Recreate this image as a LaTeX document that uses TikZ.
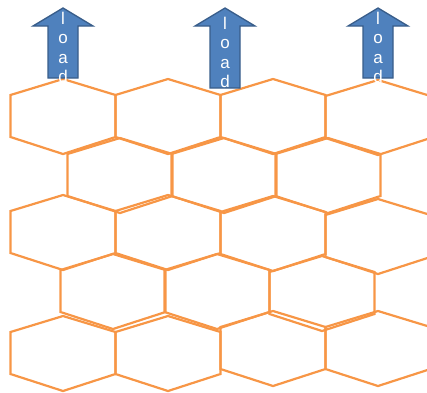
\documentclass[tikz,border=0pt]{standalone}
\usepackage{fontspec}
\setmainfont{Liberation Sans}
\definecolor{hexorange}{HTML}{F79646}
\definecolor{loadblue}{HTML}{4F81BD}
\definecolor{loadedge}{HTML}{385D8A}
\tikzset{
  hexcell/.pic={\draw[hexline] (0,0) -- (52.5,16) -- (52.5,58) -- (0,75) -- (-52.5,58) -- (-52.5,16) -- cycle;},
  loadarrow/.pic={\draw[arrowbody] (0,0) -- (30,18) -- (15,18) -- (15,#1) -- (-15,#1) -- (-15,18) -- (-30,18) -- cycle;}
}
\begin{document}
\begin{tikzpicture}[x=1pt, y=-1pt,
  hexline/.style={draw=hexorange, line width=2.2pt, line join=miter},
  arrowbody/.style={draw=loadedge, fill=loadblue, line width=1.3pt},
  loadtext/.style={text=white, inner sep=0pt, align=center, font=\fontsize{17}{19.5}\selectfont}
]
\useasboundingbox (0,0) rectangle (427,392);
\clip (0,0) rectangle (427,392);

% cells, row by row (top vertex of each cell)
\pic at (63,79)   {hexcell};
\pic at (168,79)  {hexcell};
\pic at (273,79)  {hexcell};
\pic at (378,80)  {hexcell};

\pic at (120,138) {hexcell};
\pic at (224,138) {hexcell};
\pic at (328,138) {hexcell};

\pic at (63,195)  {hexcell};
\pic at (168,195) {hexcell};
\pic at (273,196) {hexcell};
\pic at (378,199) {hexcell};

\pic at (113,254) {hexcell};
\pic at (217,254) {hexcell};
\pic at (322,256) {hexcell};

\pic at (63,316)  {hexcell};
\pic at (168,316) {hexcell};
\pic at (273,311) {hexcell};
\pic at (378,311) {hexcell};

% loads
\pic at (63,8)  {loadarrow=70};
\pic at (225,8) {loadarrow=80};
\pic at (378,8) {loadarrow=70};

\node[loadtext] (load1) at (63,47.5)  {l\\o\\a\\d};
\node[loadtext] (load2) at (225,52.5) {l\\o\\a\\d};
\node[loadtext] (load3) at (378,47.5) {l\\o\\a\\d};

\end{tikzpicture}
\end{document}
